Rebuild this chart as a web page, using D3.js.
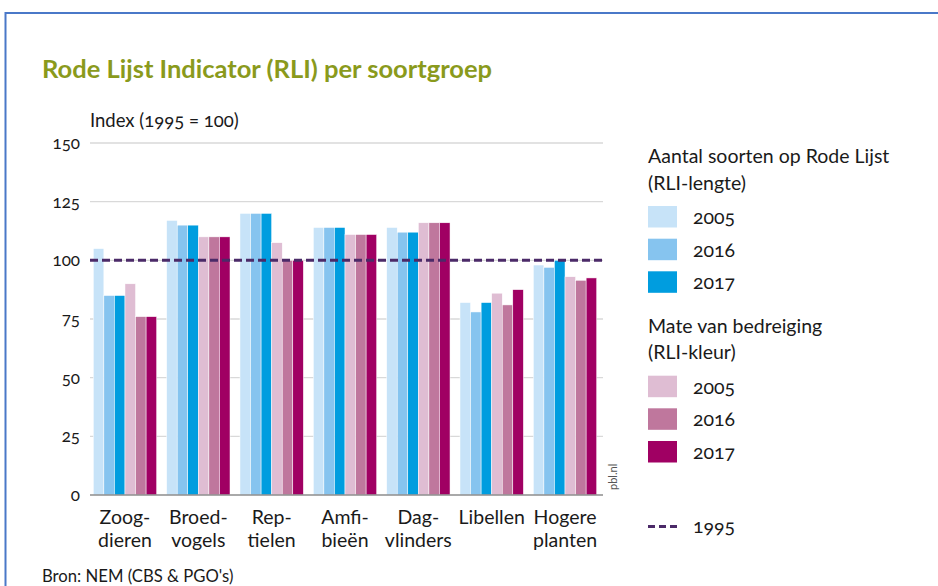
<!DOCTYPE html>
<html>
<head>
<meta charset="utf-8">
<script src="https://cdn.jsdelivr.net/npm/d3@7"></script>
<style>
  body { margin: 0; background: #fff; }
  svg { display: block; font-family: Lato, "Open Sans", sans-serif; font-feature-settings: "onum"; }
</style>
</head>
<body>
<svg id="chart" width="938" height="586"></svg>
<script>
// data
const categories = ["Zoogdieren", "Broedvogels", "Reptielen", "Amfibieën", "Dagvlinders", "Libellen", "Hogere planten"];
const catLabels = [["Zoog-", "dieren"], ["Broed-", "vogels"], ["Rep-", "tielen"], ["Amfi-", "bieën"], ["Dag-", "vlinders"], ["Libellen", ""], ["Hogere", "planten"]];
const lengte2005 = [105, 117, 120, 114, 114, 82, 98];
const lengte2016 = [85, 115, 120, 114, 112, 78, 97];
const lengte2017 = [85, 115, 120, 114, 112, 82, 100];
const kleur2005 = [90, 110, 107.5, 111, 116, 86, 93];
const kleur2016 = [76, 110, 100, 111, 116, 81, 91.5];
const kleur2017 = [76, 110, 100, 111, 116, 87.5, 92.5];
const series = ["l2005", "l2016", "l2017", "k2005", "k2016", "k2017"];
const seriesValues = [lengte2005, lengte2016, lengte2017, kleur2005, kleur2016, kleur2017];
const yTicks = [0, 25, 50, 75, 100, 125, 150];
const refValue = 100;

const colors = ["#c7e3f8", "#86c4ef", "#009ddf", "#dfbdd3", "#bf779d", "#a00063"];

const svg = d3.select("#chart");

// frame
svg.append("path")
    .attr("d", "M5.5,586 V13 H938")
    .attr("fill", "none")
    .attr("stroke", "#4a78c8")
    .attr("stroke-width", 2);

svg.append("text")
    .attr("x", 42).attr("y", 78)
    .attr("fill", "#8a9a1c")
    .attr("font-size", 25.5)
    .attr("font-weight", "bold")
    .text("Rode Lijst Indicator (RLI) per soortgroep");

svg.append("text")
    .attr("x", 90).attr("y", 127)
    .attr("fill", "#1a1a1a")
    .attr("font-size", 18.5)
    .text("Index (1995 = 100)");

const y = d3.scaleLinear().domain([0, 150]).range([495, 143]);
const x0 = d3.scaleBand().domain(categories).range([93.3, 596.7]).paddingInner(0.136).paddingOuter(0);
const x1 = d3.scaleBand().domain(series).range([0, x0.bandwidth()]).padding(0);
const color = d3.scaleOrdinal().domain(series).range(colors);

// grid
const grid = svg.append("g");
grid.selectAll("line")
    .data(yTicks.filter(d => d > 0))
    .join("line")
    .attr("x1", 90).attr("x2", 603)
    .attr("y1", d => y(d)).attr("y2", d => y(d))
    .attr("stroke", "#d9d9d9")
    .attr("stroke-width", 1.3);

// y axis labels
const yAxis = svg.append("g")
    .attr("transform", "translate(90,0)")
    .call(d3.axisLeft(y).tickValues(yTicks).tickSize(0).tickPadding(10));
yAxis.select(".domain").remove();
yAxis.selectAll("text")
    .attr("font-family", "Lato, sans-serif")
    .attr("font-size", 17)
    .attr("fill", "#1a1a1a");

// bars
const rows = categories.map((c, i) => ({ cat: c, vals: series.map((s, j) => ({ key: s, value: seriesValues[j][i] })) }));
svg.append("g")
    .selectAll("g")
    .data(rows)
    .join("g")
    .attr("transform", d => `translate(${x0(d.cat)},0)`)
    .selectAll("rect")
    .data(d => d.vals)
    .join("rect")
    .attr("x", d => x1(d.key))
    .attr("y", d => y(d.value))
    .attr("width", x1.bandwidth())
    .attr("height", d => y(0) - y(d.value))
    .attr("fill", d => color(d.key))
    .attr("stroke", "#fff")
    .attr("stroke-width", 0.5);

// baseline
svg.append("line")
    .attr("x1", 90).attr("x2", 603)
    .attr("y1", y(0)).attr("y2", y(0))
    .attr("stroke", "#8c8c8c")
    .attr("stroke-width", 1.5);

// 1995 reference
svg.append("line")
    .attr("x1", 90).attr("x2", 603)
    .attr("y1", y(refValue)).attr("y2", y(refValue))
    .attr("stroke", "#4b2a68")
    .attr("stroke-width", 3)
    .attr("stroke-dasharray", "8,4");

// x labels
const xl = svg.append("g").selectAll("text")
    .data(categories)
    .join("text")
    .attr("x", d => x0(d) + x0.bandwidth() / 2)
    .attr("text-anchor", "middle")
    .attr("font-size", 19.5)
    .attr("fill", "#1a1a1a");
xl.append("tspan").attr("x", d => x0(d) + x0.bandwidth() / 2).attr("y", 524).text((d, i) => catLabels[i][0]);
xl.append("tspan").attr("x", d => x0(d) + x0.bandwidth() / 2).attr("y", 547).text((d, i) => catLabels[i][1]);

svg.append("text")
    .attr("transform", "translate(617,490) rotate(-90)")
    .attr("font-size", 11)
    .attr("fill", "#555")
    .text("pbl.nl");

svg.append("text")
    .attr("x", 42).attr("y", 582)
    .attr("font-size", 16.7)
    .attr("fill", "#1a1a1a")
    .text("Bron: NEM (CBS & PGO's)");

// legend
const leg = svg.append("g").attr("font-size", 19.5).attr("fill", "#1a1a1a");
const legHead = [["Aantal soorten op Rode Lijst", 163], ["(RLI-lengte)", 190], ["Mate van bedreiging", 333], ["(RLI-kleur)", 359]];
leg.selectAll("text.head")
    .data(legHead)
    .join("text")
    .attr("class", "head")
    .attr("x", 648).attr("y", d => d[1])
    .text(d => d[0]);

const legYears = ["2005", "2016", "2017", "2005", "2016", "2017"];
const legTop = [206, 238.7, 271.3, 375.7, 408.3, 441];
const items = leg.selectAll("g.item")
    .data(series)
    .join("g")
    .attr("class", "item")
    .attr("transform", (d, i) => `translate(648,${legTop[i]})`);
items.append("rect")
    .attr("width", 29).attr("height", 21.5)
    .attr("fill", d => color(d));
items.append("text")
    .attr("x", 45).attr("y", 11).attr("dy", "0.35em")
    .text((d, i) => legYears[i]);

leg.append("line")
    .attr("x1", 648).attr("x2", 677)
    .attr("y1", 526.5).attr("y2", 526.5)
    .attr("stroke", "#4b2a68")
    .attr("stroke-width", 3)
    .attr("stroke-dasharray", "7,4");
leg.append("text")
    .attr("x", 693).attr("y", 526.5).attr("dy", "0.35em")
    .text("1995");
</script>
</body>
</html>
